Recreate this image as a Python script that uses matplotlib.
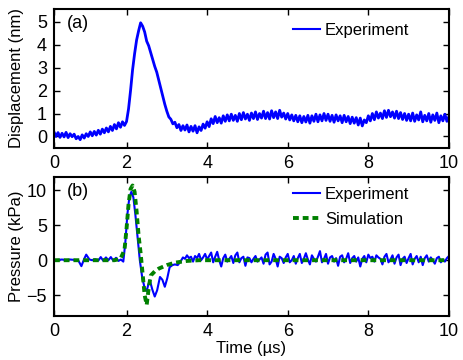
import matplotlib
matplotlib.use('Agg')
import matplotlib.pyplot as plt
import numpy as np

# ---- Data ----

# (a) displacement, sampled every 0.05 us from 0.2 to 10 us
t_disp = np.linspace(0.2, 10.0, 197)
disp = [
    # 0.20 - 1.95
    0.20, 0.00, 0.17, -0.04, 0.14, -0.02, 0.18, -0.05, 0.12, -0.01,
    0.10, -0.10, 0.00, -0.14, 0.07, -0.07, 0.12, 0.00, 0.20, 0.03,
    0.22, 0.06, 0.27, 0.10, 0.32, 0.16, 0.37, 0.20, 0.44, 0.26,
    0.52, 0.33, 0.60, 0.40, 0.64, 0.48,
    # 2.00 - 3.40
    0.65, 1.20, 2.00, 2.90, 3.60, 4.20, 4.60, 4.95, 4.80, 4.55,
    4.15, 3.95, 3.65, 3.35, 3.05, 2.80, 2.45, 2.10, 1.75, 1.40,
    1.10, 0.85, 0.75, 0.55, 0.62, 0.38, 0.52, 0.26, 0.47,
    # 3.45 - 10.00
    0.28, 0.50, 0.20, 0.44, 0.23, 0.47, 0.16, 0.42, 0.26, 0.54,
    0.36, 0.64, 0.43, 0.77, 0.56, 0.87, 0.60, 0.82, 0.58, 0.90,
    0.66, 0.94, 0.68, 0.97, 0.70, 0.92, 0.66, 1.00, 0.73, 1.04,
    0.76, 0.97, 0.70, 1.02, 0.78, 1.07, 0.74, 1.00, 0.80, 1.10,
    0.78, 1.04, 0.76, 1.12, 0.82, 1.07, 0.78, 1.14, 0.84, 1.02,
    0.76, 1.00, 0.72, 0.94, 0.68, 0.92, 0.64, 0.90, 0.60, 0.87,
    0.63, 0.92, 0.58, 0.90, 0.66, 0.97, 0.64, 0.94, 0.68, 1.00,
    0.70, 0.97, 0.66, 0.92, 0.62, 0.94, 0.68, 0.90, 0.60, 0.92,
    0.64, 0.87, 0.56, 0.84, 0.58, 0.82, 0.50, 0.80, 0.46, 0.72,
    0.60, 0.90, 0.68, 1.00, 0.73, 1.07, 0.80, 1.02, 0.78, 1.12,
    0.83, 1.14, 0.86, 1.07, 0.80, 1.10, 0.78, 1.04, 0.74, 1.00,
    0.70, 0.97, 0.68, 1.02, 0.66, 0.94, 0.72, 1.07, 0.64, 0.92,
    0.68, 1.00, 0.62, 0.94, 0.70, 1.02, 0.60, 0.90, 0.68, 0.97,
    0.66, 0.87,
]

# (b) measured pressure: pulse region, then ringing sampled every 0.05 us
t_pres_pulse = [0.2, 0.3, 0.4, 0.5, 0.6, 0.7, 0.8, 0.88, 0.95, 1.0,
                1.08, 1.15, 1.22, 1.30, 1.36, 1.42, 1.49, 1.55, 1.61, 1.67,
                1.74, 1.80, 1.86, 1.92, 1.97, 2.02, 2.07, 2.12, 2.17, 2.22,
                2.27, 2.33, 2.39, 2.45, 2.50, 2.54, 2.58, 2.64, 2.70, 2.76,
                2.83, 2.89, 2.95, 3.01, 3.07, 3.14, 3.20, 3.27, 3.34, 3.40]
pres_pulse = [0.0, 0.05, 0.1, 0.0, 0.1, 0.05, 0.0, -0.85, 0.2, 0.8,
              0.1, 0.0, 0.15, -0.05, 0.45, -0.05, 0.4, 0.0, 0.45, -0.05,
              0.35, -0.1, 0.1, -0.2, 2.5, 6.5, 9.0, 9.8, 9.0, 6.5,
              3.5, 0.0, -2.5, -4.0, -4.4, -3.5, -2.9, -4.2, -5.2, -4.3,
              -2.4, -2.8, -3.8, -2.6, -1.0, -0.7, -0.6, -0.7, -0.2, 0.4]
t_pres_tail = np.linspace(3.45, 10.0, 132)
pres_tail = [
    0.2, 0.7, 0.3, 0.5, -0.2, 0.6, 0.3, 0.9, 0.0, 0.4,
    0.9, 0.1, 0.6, 1.1, -0.3, 0.5, 1.2, 0.0, -0.9, 0.3,
    0.8, -0.2, 0.2, 0.6, -0.4, 0.7, 1.1, -0.3, 0.3, 0.5,
    -0.8, 0.4, 0.3, -0.3, 0.2, 0.6, -0.2, 0.1, 0.4, -0.5,
    0.8, 1.1, -0.6, -0.2, 0.9, 0.2, -0.9, 0.5, 0.3, -0.4,
    0.4, 0.9, -0.3, 0.0, 0.6, -0.5, 0.3, 0.9, -0.4, 0.2,
    1.0, 0.1, -0.6, 0.7, 0.2, -0.2, 0.5, 1.3, -0.3, 0.2,
    0.9, -0.5, 0.4, 0.6, -0.2, 0.3, -0.8, 0.5, 0.7, -0.3,
    0.2, 1.0, -0.4, 0.3, 0.6, -0.2, 0.4, -0.9, 0.2, 0.6,
    -0.3, 0.8, 0.3, 0.5, -0.2, 0.7, 0.4, 0.2, -0.6, 0.5,
    0.9, -0.3, 0.1, 0.7, -0.5, 0.4, 0.8, -0.7, 0.2, 0.5,
    -0.4, 0.3, 0.9, -0.6, 0.2, 0.6, -0.3, 0.5, -0.7, 0.3,
    0.7, -0.2, 0.4, 0.0, -0.5, 0.3, 0.5, -0.3, 0.1, -0.2,
    0.3, 0.6,
]

# (b) simulated pressure
t_sim = [0.2, 1.7, 1.85, 1.95, 2.0, 2.05, 2.1, 2.15, 2.2, 2.25,
         2.3, 2.35, 2.4, 2.45, 2.5, 2.55, 2.6, 2.7, 2.8, 3.0,
         3.2, 3.5, 3.8, 10.0]
p_sim = [0.0, 0.0, 0.2, 1.5, 4.5, 8.0, 10.2, 10.7, 9.8, 7.0,
         3.5, 1.0, -2.0, -5.0, -6.4, -4.0, -2.2, -1.6, -1.2, -0.7,
         -0.35, -0.1, 0.0, 0.0]

x_ticks = [0.2, 2, 4, 6, 8, 10]
x_tick_labels = ['0', '2', '4', '6', '8', '10']

# ---- Style ----
plt.rcParams.update({
    'font.family': ['Liberation Sans', 'DejaVu Sans'],
    'font.size': 12,
    'axes.linewidth': 1.5,
})

BLUE = '#0000ff'
GREEN = '#008000'

fig = plt.figure(figsize=(4.63, 3.6), dpi=100)
ax1 = fig.add_axes([0.1166, 0.589, 0.853, 0.386])
ax2 = fig.add_axes([0.1166, 0.122, 0.853, 0.386])

for ax in (ax1, ax2):
    ax.set_xlim(0.2, 10)
    ax.set_xticks(x_ticks, x_tick_labels)
    ax.tick_params(direction='in', top=True, right=True, length=4, width=1,
                   labelsize=13, pad=5)
    ax.yaxis.set_label_coords(-0.075, 0.5)

# (a)
ax1.plot(t_disp, disp, color=BLUE, lw=2.0, label='Experiment')
ax1.set_ylim(-0.5, 5.55)
ax1.set_yticks([0, 1, 2, 3, 4, 5])
ax1.set_ylabel('Displacement (nm)', fontsize=12)
ax1.text(0.033, 0.955, '(a)', transform=ax1.transAxes, fontsize=13, va='top')
leg1 = ax1.legend(loc='upper right', bbox_to_anchor=(0.9, 0.9), frameon=False,
                  fontsize=12, handlelength=1.65, handletextpad=0.3,
                  borderpad=0, borderaxespad=0)
for h in leg1.get_lines():
    h.set_linewidth(1.5)

# (b)
t_pres = list(t_pres_pulse) + list(t_pres_tail)
pres = pres_pulse + pres_tail
ax2.plot(t_pres, pres, color=BLUE, lw=1.5, label='Experiment')
ax2.plot(t_sim, p_sim, color=GREEN, lw=2.8, dashes=(1.5, 1.0), label='Simulation')
ax2.set_ylim(-8, 11.9)
ax2.set_yticks([-5, 0, 5, 10])
ax2.set_ylabel('Pressure (kPa)', fontsize=12)
ax2.set_xlabel('Time (\u00b5s)', fontsize=12, labelpad=1)
ax2.text(0.033, 0.955, '(b)', transform=ax2.transAxes, fontsize=13, va='top')
ax2.legend(loc='upper right', bbox_to_anchor=(0.9, 0.93), frameon=False,
           fontsize=12, handlelength=1.65, handletextpad=0.3, labelspacing=0.6,
           borderpad=0, borderaxespad=0)

plt.savefig('out.png', dpi=100)
plt.close()
